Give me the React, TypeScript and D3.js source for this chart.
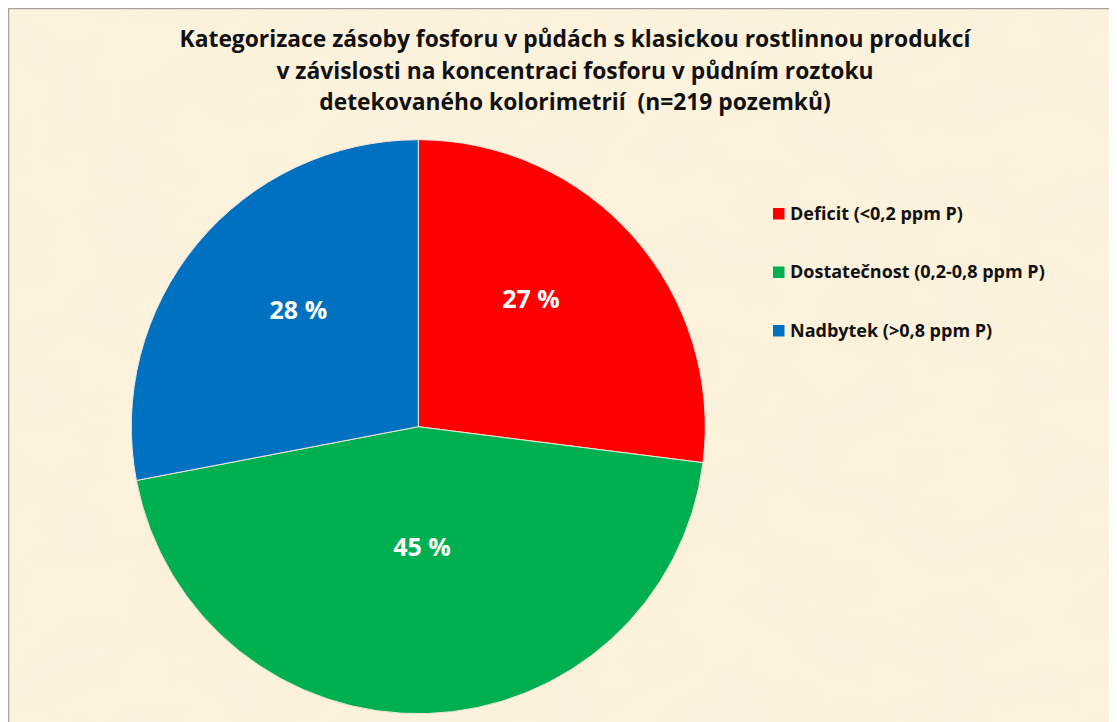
import React from "react";
import * as d3 from "d3";

const categories = ["Deficit (<0,2 ppm P)", "Dostatečnost (0,2-0,8 ppm P)", "Nadbytek (>0,8 ppm P)"];
const values = [27, 45, 28];
const colors = ["#FF0000", "#00B050", "#0070C0"];
const labelRadius = [0.592, 0.42, 0.582];
const labelAngleShift = [-7, 0, 4.5];
const titleLines = [
  "Kategorizace zásoby fosforu v půdách s klasickou rostlinnou produkcí",
  "v závislosti na koncentraci fosforu v půdním roztoku",
  "detekovaného kolorimetrií  (n=219 pozemků)",
];

const W = 1109;
const H = 714;
const FONT = "'Open Sans', Lato, sans-serif";

export default function App() {
  const cx = 410.3;
  const cy = 418.7;
  const R = 287;
  const pie = d3.pie<number>().sort(null).value((d) => d);
  const arcs = pie(values);
  const arc = d3.arc<d3.PieArcDatum<number>>().innerRadius(0).outerRadius(R);
  const total = d3.sum(values);

  return (
    <svg width={W} height={H} style={{ display: "block" }}>
      <defs>
        <filter id="parch" x="0" y="0" width="100%" height="100%">
          <feTurbulence type="fractalNoise" baseFrequency="0.012 0.018" numOctaves="4" seed="7" result="n" />
          <feColorMatrix
            in="n"
            type="matrix"
            values="0 0 0 0 0.96  0 0 0 0 0.89  0 0 0 0 0.74  0 0 0 -2.2 1.35"
            result="c"
          />
          <feComposite in="c" in2="SourceGraphic" operator="over" />
        </filter>
      </defs>
      <rect x={0} y={0} width={W} height={H} fill="#FDF2DC" />
      <rect x={0} y={0} width={W} height={H} fill="#FDF2DC" filter="url(#parch)" opacity={0.55} />
      <line x1={0.5} y1={0} x2={0.5} y2={H} stroke="#A8A29A" strokeWidth={1.5} />
      <line x1={0} y1={0.5} x2={W} y2={0.5} stroke="#A8A29A" strokeWidth={1.5} />

      {titleLines.map((t, i) => (
        <text
          key={i}
          x={567}
          y={39 + i * 31.5}
          textAnchor="middle"
          fontFamily={FONT}
          fontWeight={700}
          fontSize={22.8}
          fill="#111"
          style={{ whiteSpace: "pre" }}
        >
          {t}
        </text>
      ))}

      <g transform={`translate(${cx},${cy})`}>
        {arcs.map((a, i) => (
          <path key={i} d={arc(a) || ""} fill={colors[i]} stroke="#F4E6D8" strokeWidth={1} />
        ))}
        {arcs.map((a, i) => {
          const lr = R * labelRadius[i];
          const mid = (a.startAngle + a.endAngle) / 2 + (labelAngleShift[i] * Math.PI) / 180;
          const x = lr * Math.sin(mid);
          const y = -lr * Math.cos(mid);
          return (
            <text
              key={i}
              x={x}
              y={y}
              dy="0.35em"
              textAnchor="middle"
              fontFamily={FONT}
              fontWeight={700}
              fontSize={25}
              fill="#fff"
            >
              {`${Math.round((values[i] / total) * 100)} %`}
            </text>
          );
        })}
      </g>

      {categories.map((c, i) => (
        <g key={i} transform={`translate(765,${200 + i * 58.5})`}>
          <rect x={0} y={0} width={11.5} height={11.5} fill={colors[i]} />
          <text x={17} y={11.5} fontFamily={FONT} fontWeight={700} fontSize={18} fill="#111">
            {c}
          </text>
        </g>
      ))}
    </svg>
  );
}
